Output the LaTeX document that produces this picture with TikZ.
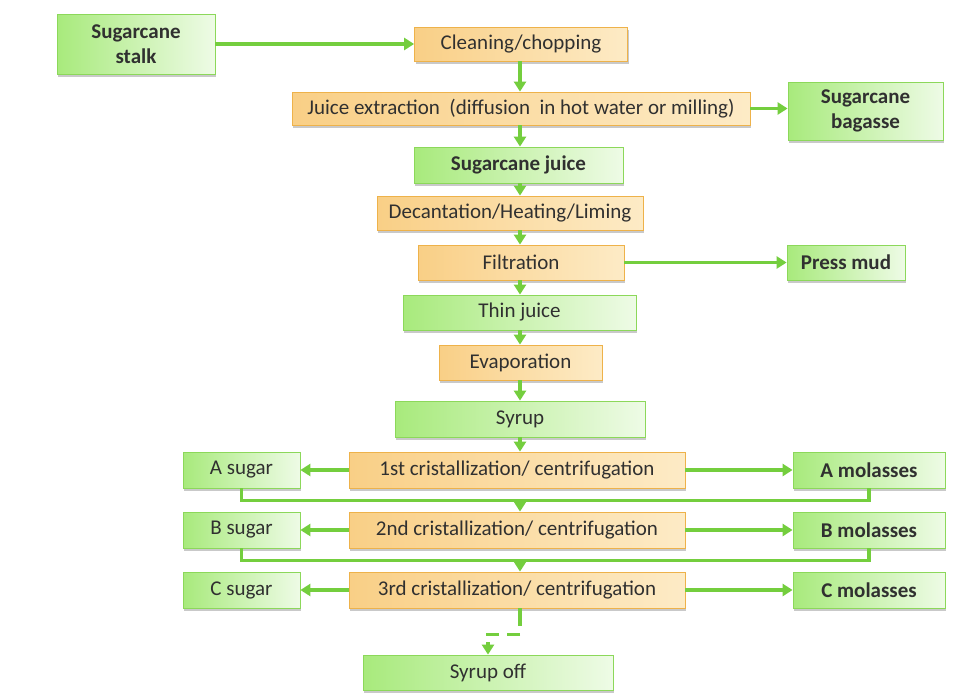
\documentclass[tikz,border=0pt]{standalone}
\usepackage{fontspec}
\setmainfont{Carlito}
\usetikzlibrary{shadows,arrows.meta,calc}
\definecolor{grnB}{HTML}{8CD85A}
\definecolor{grnL}{HTML}{A8EA7C}
\definecolor{grnR}{HTML}{EEFBE6}
\definecolor{orB}{HTML}{EEB24A}
\definecolor{orL}{HTML}{F9CF86}
\definecolor{orR}{HTML}{FDEBC6}
\definecolor{arr}{HTML}{74CE3E}
\definecolor{txt}{HTML}{303030}
\tikzset{
  box/.style={draw, line width=0.8pt, inner sep=0pt, align=center, text=txt,
    font=\fontsize{21}{25}\selectfont,
    drop shadow={shadow xshift=1pt, shadow yshift=-2.5pt, opacity=0.35, fill=black!60}},
  gbox/.style={box, draw=grnB, left color=grnL, right color=grnR},
  obox/.style={box, draw=orB, left color=orL, right color=orR},
  flow/.style={draw=arr, line width=3.4pt, -{Triangle[width=12pt,length=10pt]}},
  link/.style={draw=arr, line width=3.4pt},
  wh/.style 2 args={minimum width=#1pt, minimum height=#2pt}
}
\begin{document}
\begin{tikzpicture}[x=1pt,y=1pt]
\fill[white] (0,0) rectangle (961,-694);
\useasboundingbox (0,0) rectangle (961,-694);
\coordinate (ax) at (520,0);
% nodes
\node[gbox, wh={158}{60}] (stalk) at (136,-44) {\textbf{Sugarcane}\\\textbf{stalk}};
\node[obox, wh={213}{34}] (clean) at (521,-44) {Cleaning/chopping};
\node[obox, wh={458}{33}] (jext) at (521,-108.5) {Juice extraction\ \ (diffusion\ \ in\ hot\ water\ or\ milling)};
\node[gbox, wh={155}{58}] (bag) at (865.5,-111) {\textbf{Sugarcane}\\\textbf{bagasse}};
\node[gbox, wh={209}{36}] (juice) at (518.5,-165) {\textbf{Sugarcane juice}};
\node[obox, wh={266}{34}] (dec) at (510,-213) {Decantation/Heating/Liming};
\node[obox, wh={206}{35}] (filt) at (521,-262.5) {Filtration};
\node[gbox, wh={118}{35}] (press) at (846,-262.5) {\textbf{Press mud}};
\node[gbox, wh={233}{35}] (thin) at (519.5,-312.5) {Thin juice};
\node[obox, wh={163}{35}] (evap) at (520.5,-362.5) {Evaporation};
\node[gbox, wh={250}{36}] (syrup) at (520,-419) {Syrup};
\node[gbox, wh={117}{36}] (as) at (241.5,-470) {A sugar};
\node[obox, wh={336}{36}] (c1) at (517,-470) {1st cristallization/\ centrifugation};
\node[gbox, wh={152}{36}] (am) at (869,-470) {\textbf{A molasses}};
\node[gbox, wh={117}{36}] (bs) at (241.5,-530) {B sugar};
\node[obox, wh={336}{36}] (c2) at (517,-530) {2nd cristallization/\ centrifugation};
\node[gbox, wh={152}{36}] (bm) at (869,-530) {\textbf{B molasses}};
\node[gbox, wh={117}{36}] (cs) at (241.5,-590) {C sugar};
\node[obox, wh={336}{36}] (c3) at (517,-590) {3rd cristallization/\ centrifugation};
\node[gbox, wh={152}{36}] (cm) at (869,-590) {\textbf{C molasses}};
\node[gbox, wh={250}{35}] (off) at (488,-672.5) {Syrup off};
% connectors
\draw[flow] (stalk.east |- clean) -- (clean.west);
\draw[flow] (clean.south -| ax) -- (jext.north -| ax);
\draw[flow] (jext.east) -- (bag.west |- jext);
\draw[flow] (jext.south -| ax) -- (juice.north -| ax);
\draw[flow] (juice.south -| ax) -- (dec.north -| ax);
\draw[flow] (dec.south -| ax) -- (filt.north -| ax);
\draw[flow] (filt.east) -- (press.west);
\draw[flow] (filt.south -| ax) -- (thin.north -| ax);
\draw[flow] (thin.south -| ax) -- (evap.north -| ax);
\draw[flow] (evap.south -| ax) -- (syrup.north -| ax);
\draw[flow] (syrup.south -| ax) -- (c1.north -| ax);
\draw[flow] (c1.west) -- (as.east);
\draw[flow] (c1.east) -- (am.west);
\draw[flow] (c2.west) -- (bs.east);
\draw[flow] (c2.east) -- (bm.west);
\draw[flow] (c3.west) -- (cs.east);
\draw[flow] (c3.east) -- (cm.west);
% recycle loops
\coordinate (la) at ($(as.south)+(0,-12)$);
\coordinate (lb) at ($(bs.south)+(0,-12)$);
\draw[link] (as.south) -- (la) -| (am.south);
\draw[flow] (la -| ax) -- (c2.north -| ax);
\draw[link] (bs.south) -- (lb) -| (bm.south);
\draw[flow] (lb -| ax) -- (c3.north -| ax);
% syrup off
\coordinate (d1) at ($(c3.south -| ax)+(0,-18)$);
\coordinate (d2) at ($(c3.south -| ax)+(0,-26)$);
\coordinate (d3) at ($(d2)+(-34,0)$);
\coordinate (d4) at ($(d3)+(2,-8)$);
\draw[link] (c3.south -| ax) -- (d1);
\draw[link, dash pattern=on 13pt off 8pt] (d2) -- (d3);
\draw[flow] (d4) -- (off.north -| d4);
\end{tikzpicture}
\end{document}
